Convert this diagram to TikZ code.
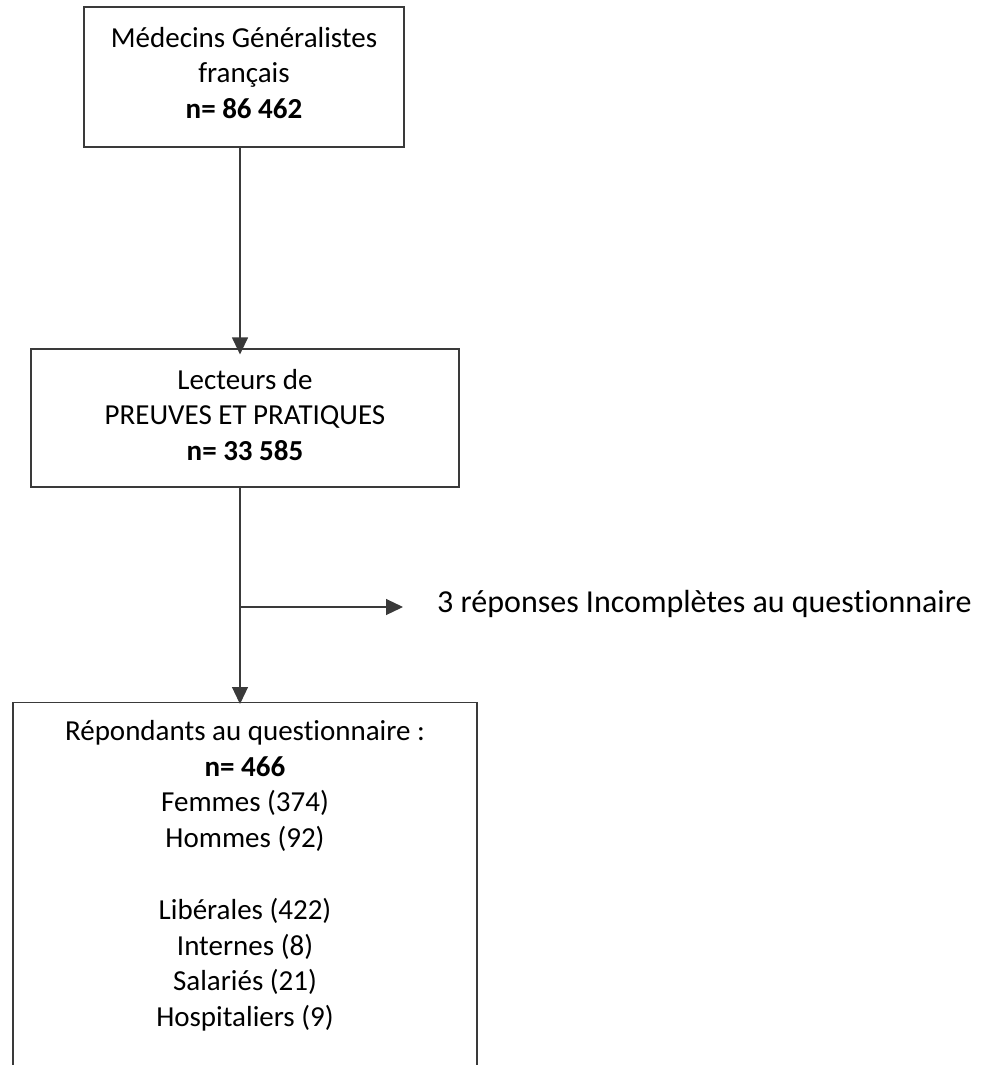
\documentclass[tikz,border=0pt]{standalone}
\usepackage{fontspec}
\setmainfont{Carlito}[Ligatures=NoCommon]
\usetikzlibrary{arrows.meta}
\definecolor{linec}{HTML}{3A3A3A}
\tikzset{
  boxstyle/.style={draw=linec, line width=1.2pt, fill=white, align=center, inner sep=0pt,
    font=\fontsize{29}{35.8}\selectfont},
  txt/.style={align=center, inner sep=0pt, font=\fontsize{29}{35.8}\selectfont},
  arr/.style={draw=linec, line width=1.2pt, -{Triangle[width=16pt,length=17pt]}},
  conn/.style={draw=linec, line width=1.2pt}
}
\begin{document}
\begin{tikzpicture}[x=1pt,y=-1pt]
\useasboundingbox (0,0) rectangle (991,1065);
\clip (0,0) rectangle (991,1065);
\fill[white] (0,0) rectangle (991,1065);
\node[boxstyle, minimum width=320pt, minimum height=140pt] (box1) at (244,77) {};
\node[txt] (t1) at (244,73) {Médecins Généralistes\\français\\\textbf{n= 86 462}};
\node[boxstyle, minimum width=428pt, minimum height=138pt] (box2) at (245,418) {};
\node[txt] (t2) at (245,415) {Lecteurs de\\PREUVES ET PRATIQUES\\\textbf{n= 33 585}};
\node[boxstyle, anchor=north, minimum width=464pt, minimum height=420pt] (box3) at (245,702) {};
\node[txt, anchor=north] (t3) at (245,720) {Répondants au questionnaire :\\\textbf{n= 466}\\Femmes (374)\\Hommes (92)\\[35.8pt]Libérales (422)\\Internes (8)\\Salariés (21)\\Hospitaliers (9)};
\node[anchor=west, inner sep=0pt, font=\fontsize{32}{39}\selectfont] (lbl) at (437,604) {3 réponses Incomplètes au questionnaire};
\coordinate (lx) at (240,0);
\coordinate (br) at (240,607);
\draw[arr] (box1.south -| lx) -- ([yshift=-6pt]box2.north -| lx);
\draw[arr] (box2.south -| lx) -- ([yshift=-2pt]box3.north -| lx);
\draw[arr] (br) -- ([xshift=-34pt]lbl.west |- br);
\end{tikzpicture}
\end{document}
